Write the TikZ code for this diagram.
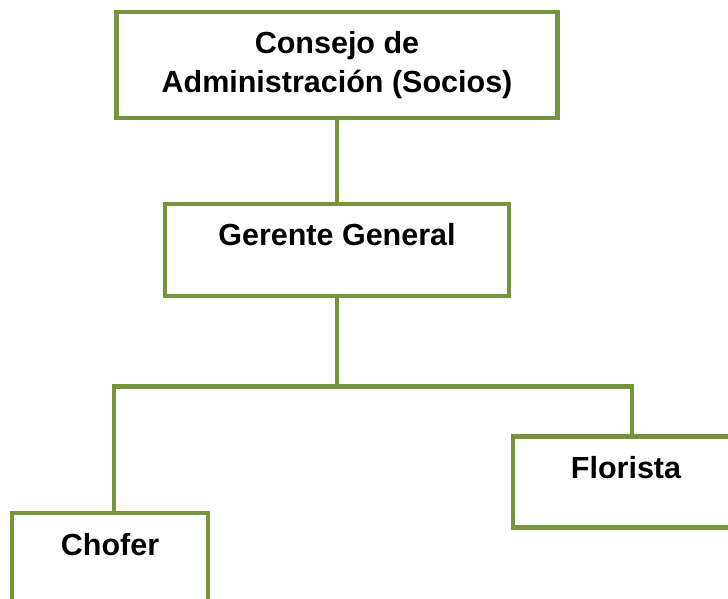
\documentclass[tikz,border=0pt]{standalone}
\usepackage{fontspec}
\setmainfont{Liberation Sans}
\usetikzlibrary{positioning,calc}
\definecolor{oliva}{HTML}{77933C}

\begin{document}
\begin{tikzpicture}[x=1pt, y=-1pt,
      font=\fontsize{30.5}{39}\selectfont\bfseries,
      caja/.style={draw=oliva, line width=4.5pt, fill=white, align=center,
                   inner xsep=0pt, inner ysep=0pt},
      linea/.style={draw=oliva, line width=4.5pt}]
    \useasboundingbox (0,0) rectangle (728,599);
    \clip (0,0) rectangle (728,599);
    \node[caja, minimum width=441pt, minimum height=106pt] (consejo) at (337,65)
         {Consejo de\\Administración (Socios)};
    \node[caja, minimum width=344pt, text height=41pt, text depth=51pt] (gerente) at (337,250)
         {Gerente General};
    \node[caja, minimum width=196pt, text height=42.5pt, text depth=49pt, anchor=north] (chofer) at (110,510.7)
         {Chofer};
    \node[caja, minimum width=226pt, text height=42pt, text depth=49pt, anchor=north] (florista) at (626,434)
         {Florista};
    \draw[linea] (consejo.south) -- (gerente.north);
    \draw[linea] (gerente.south) -- ++(0,88) coordinate (barra);
    \draw[linea] ([xshift=4pt]chofer.north) |- (barra) -| ([xshift=6pt]florista.north);
  \end{tikzpicture}
\end{document}
